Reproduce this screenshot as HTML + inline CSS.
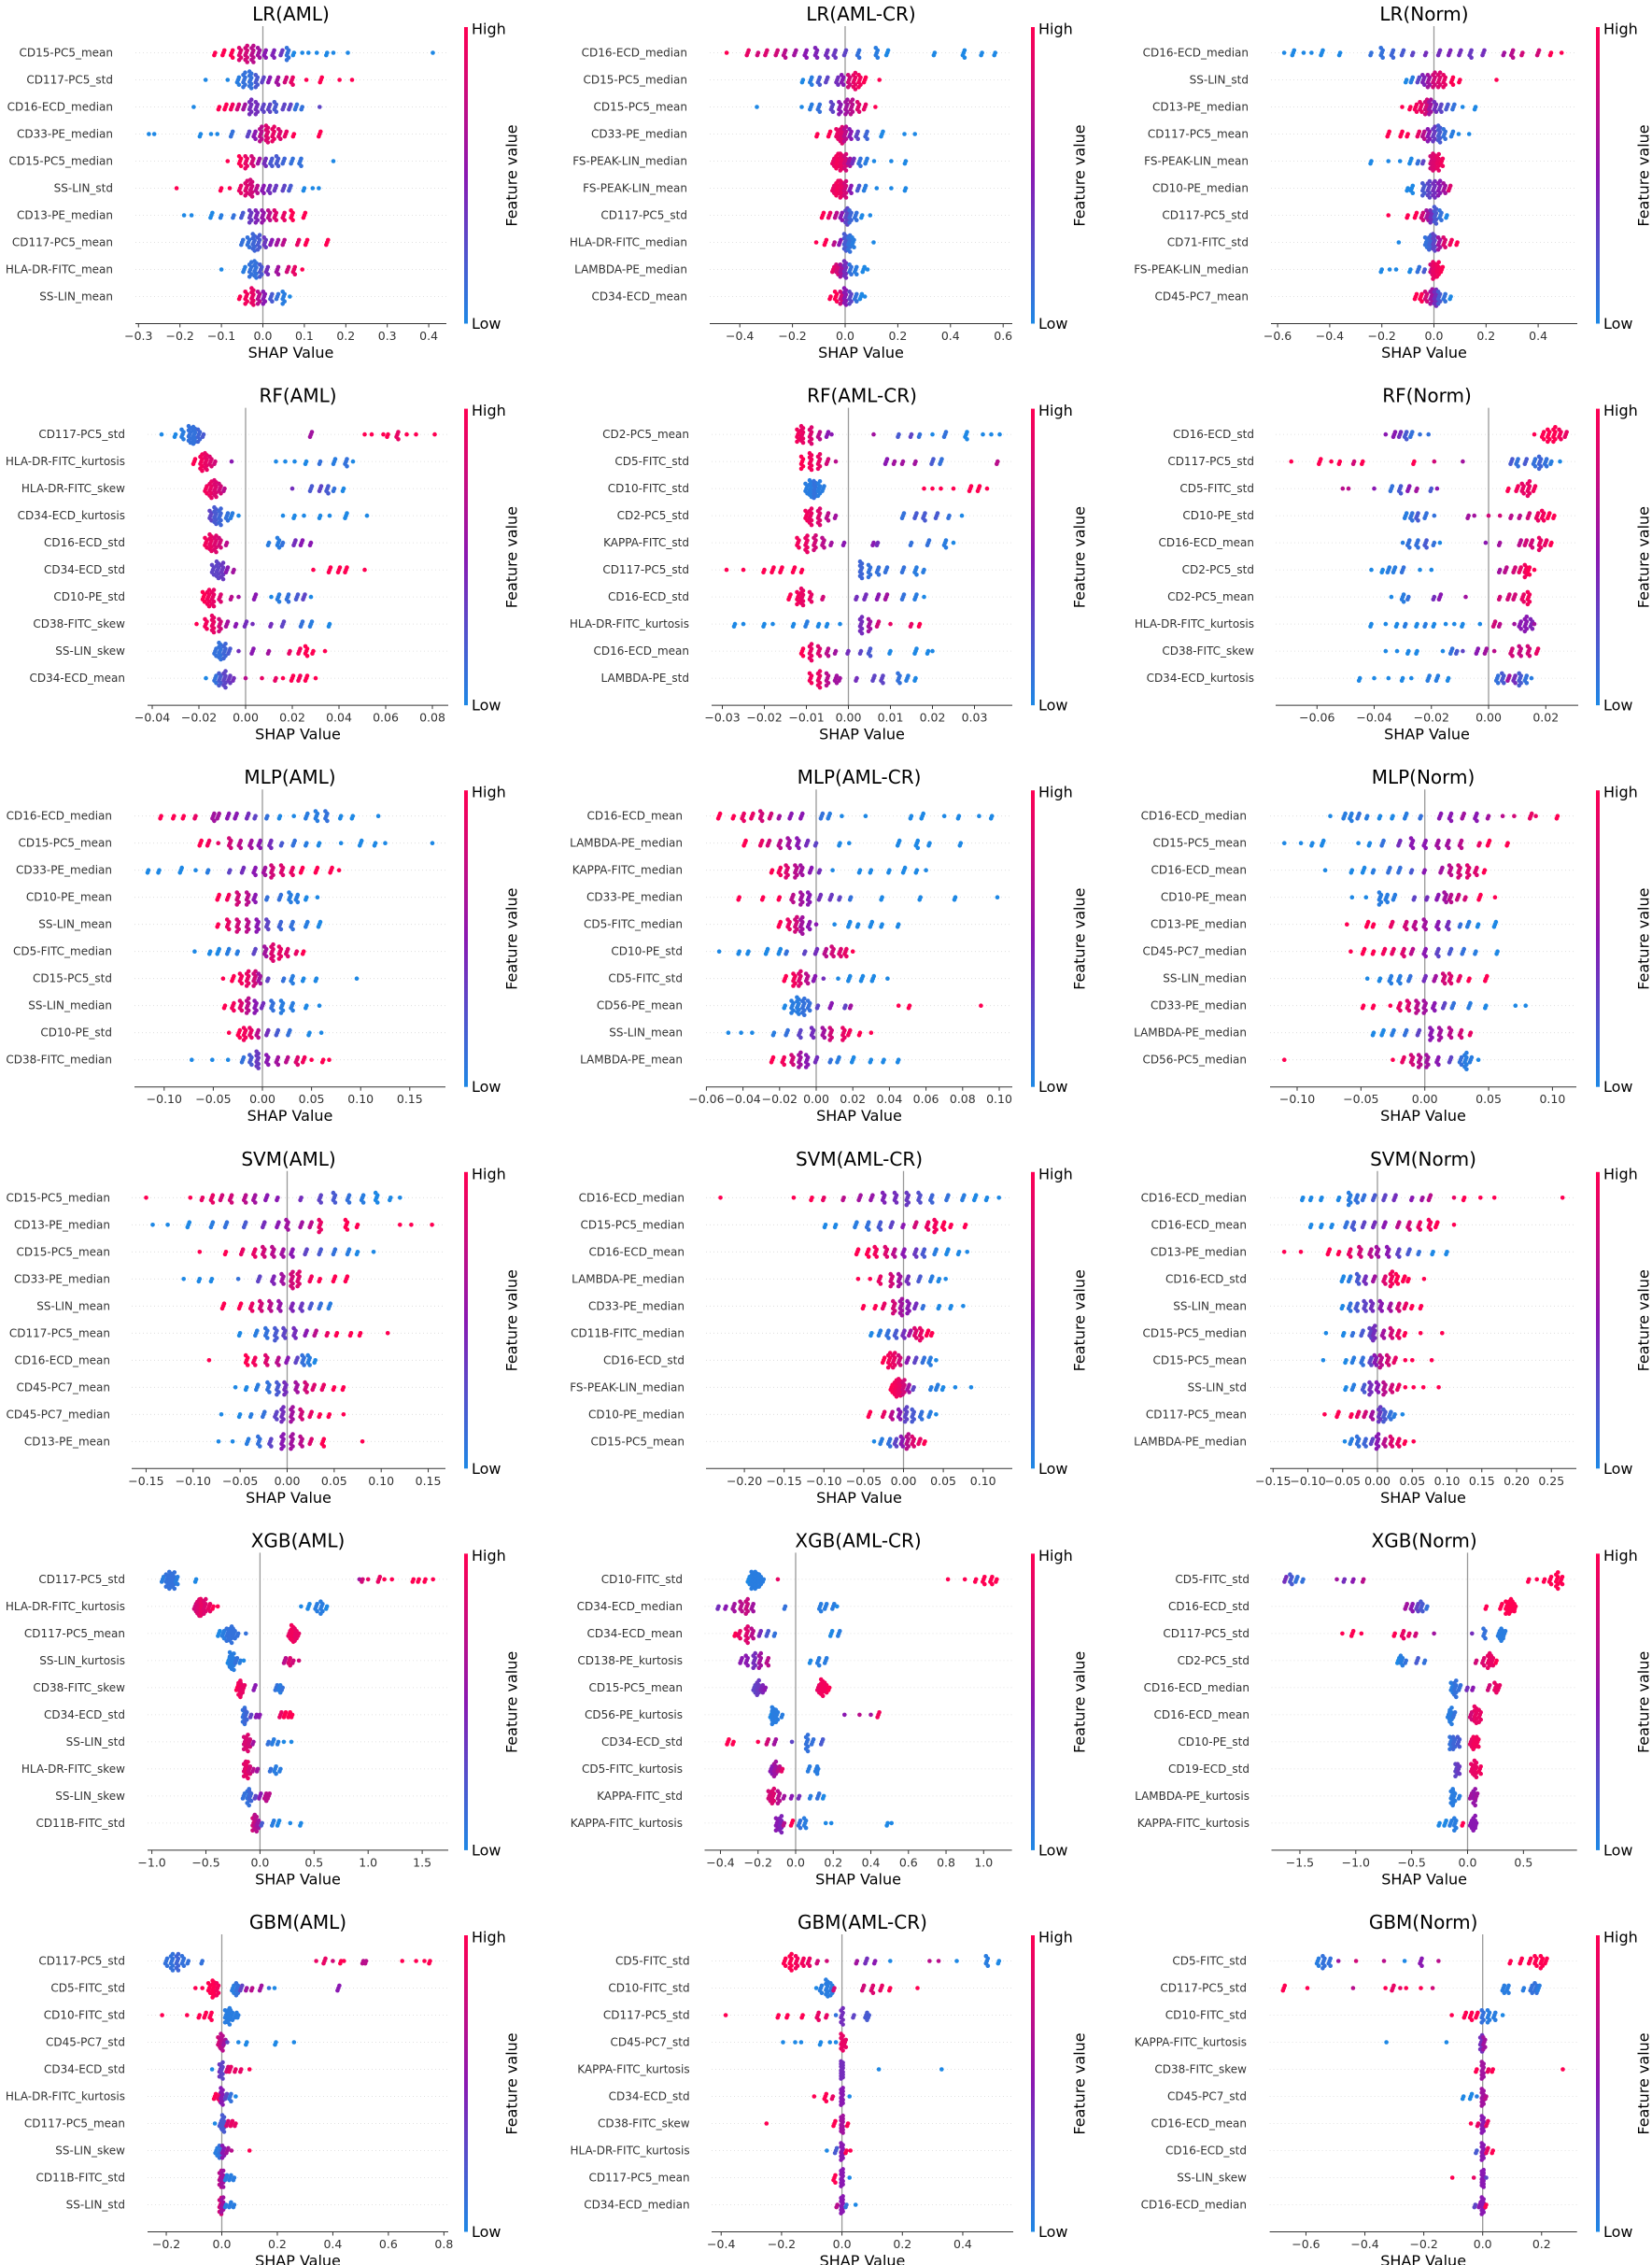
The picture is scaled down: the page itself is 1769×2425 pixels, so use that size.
<!DOCTYPE html>
<html><head><meta charset="utf-8"><style>
html,body{margin:0;padding:0;background:#fff}
svg{display:block}
text{font-family:"DejaVu Sans","Liberation Sans",sans-serif}
</style></head><body>
<svg id="chart" xmlns="http://www.w3.org/2000/svg" width="1769" height="2425" viewBox="0 0 1769 2425"></svg>
<script>
// ---------- data: feature names, beeswarm clusters [shap value, count, feature level 0..1], ticks ----------
const featLRAML=["CD15-PC5_mean","CD117-PC5_std","CD16-ECD_median","CD33-PE_median","CD15-PC5_median","SS-LIN_std","CD13-PE_median","CD117-PC5_mean","HLA-DR-FITC_mean","SS-LIN_mean"];
const valsLRAML=[
[[-0.115,2,1],[-0.095,3,1],[-0.075,4,1],[-0.055,6,0.85],[-0.04,8,0.8],[-0.025,8,0.7],[-0.01,5,0.6],[0.005,4,0.5],[0.025,4,0.45],[0.045,3,0.35],[0.06,6,0.1],[0.075,2,0],[0.095,1,0],[0.11,1,0],[0.13,1,0],[0.155,2,0],[0.17,1,0],[0.205,1,0],[0.41,1,0]],
[[-0.138,1,0],[-0.085,1,0],[-0.06,4,0.05],[-0.045,7,0.1],[-0.03,9,0.1],[-0.015,6,0.2],[0,3,0.3],[0.015,3,0.5],[0.035,4,0.6],[0.055,3,0.8],[0.07,4,0.9],[0.105,1,1],[0.14,3,1],[0.185,1,1],[0.215,1,1]],
[[-0.167,1,0],[-0.105,2,1],[-0.09,3,1],[-0.075,3,0.95],[-0.06,3,0.8],[-0.045,3,0.6],[-0.03,7,0.4],[-0.015,6,0.4],[0,4,0.3],[0.015,4,0.3],[0.03,5,0.2],[0.05,3,0.3],[0.065,3,0.3],[0.08,3,0.1],[0.095,2,0.1],[0.137,1,0.3]],
[[-0.275,1,0],[-0.262,1,0],[-0.15,2,0],[-0.125,1,0],[-0.11,1,0],[-0.075,3,0.1],[-0.035,3,0.3],[-0.02,4,0.5],[-0.005,7,0.7],[0.01,9,0.85],[0.025,7,0.9],[0.04,5,0.85],[0.055,3,0.9],[0.075,2,1],[0.137,3,1]],
[[-0.085,1,1],[-0.055,5,1],[-0.04,6,0.9],[-0.025,5,0.8],[-0.01,3,0.6],[0.005,4,0.4],[0.02,4,0.2],[0.035,5,0.2],[0.05,3,0.15],[0.07,3,0.1],[0.09,4,0.1],[0.17,1,0]],
[[-0.208,1,1],[-0.1,2,1],[-0.08,1,1],[-0.055,4,0.9],[-0.04,7,0.85],[-0.028,9,0.8],[-0.015,4,0.7],[0,4,0.5],[0.015,4,0.4],[0.03,3,0.35],[0.05,3,0.3],[0.065,3,0.2],[0.1,2,0],[0.12,1,0],[0.135,1,0]],
[[-0.19,1,0],[-0.172,1,0],[-0.124,3,0],[-0.1,2,0.05],[-0.07,2,0.1],[-0.05,3,0.2],[-0.03,6,0.35],[-0.015,6,0.45],[0,6,0.55],[0.015,5,0.7],[0.03,5,0.85],[0.05,4,0.9],[0.07,5,1],[0.1,3,1]],
[[-0.05,3,0.1],[-0.035,5,0.1],[-0.022,9,0.15],[-0.01,7,0.2],[0.005,5,0.35],[0.02,3,0.5],[0.035,3,0.6],[0.05,3,0.7],[0.085,3,0.9],[0.105,3,1],[0.155,3,1]],
[[-0.1,1,0],[-0.045,3,0.05],[-0.03,7,0.1],[-0.018,9,0.1],[-0.005,6,0.2],[0.01,4,0.4],[0.035,4,0.6],[0.06,3,0.8],[0.075,4,0.9],[0.095,1,1]],
[[-0.055,2,1],[-0.04,6,0.95],[-0.025,9,0.9],[-0.01,6,0.7],[0.003,6,0.5],[0.02,4,0.2],[0.035,3,0.1],[0.05,6,0.05],[0.065,1,0]]];
const ticksLRAML=[-0.3,-0.2,-0.1,0,0.1,0.2,0.3,0.4];

const featLRCR=["CD16-ECD_median","CD15-PC5_median","CD15-PC5_mean","CD33-PE_median","FS-PEAK-LIN_median","FS-PEAK-LIN_mean","CD117-PC5_std","HLA-DR-FITC_median","LAMBDA-PE_median","CD34-ECD_mean"];
const valsLRCR=[
[[-0.45,1,1],[-0.37,3,0.9],[-0.33,2,0.8],[-0.3,3,0.85],[-0.26,3,0.8],[-0.23,4,0.7],[-0.19,3,0.6],[-0.15,4,0.5],[-0.11,5,0.45],[-0.07,4,0.4],[-0.04,4,0.35],[0,3,0.3],[0.05,4,0.1],[0.12,5,0.05],[0.16,3,0],[0.34,2,0],[0.45,4,0],[0.52,2,0],[0.57,2,0]],
[[-0.16,2,0],[-0.13,4,0.05],[-0.1,4,0.2],[-0.07,3,0.3],[-0.03,4,0.4],[-0.01,5,0.5],[0.015,6,0.8],[0.035,8,0.9],[0.055,6,0.95],[0.075,3,1],[0.13,1,1]],
[[-0.335,1,0],[-0.165,1,0],[-0.13,3,0.05],[-0.1,4,0.1],[-0.05,5,0.3],[-0.02,6,0.5],[0.005,7,0.6],[0.025,7,0.7],[0.05,5,0.85],[0.075,3,0.9],[0.115,1,1]],
[[-0.105,2,1],[-0.06,3,1],[-0.03,5,0.9],[-0.015,8,0.85],[0,7,0.7],[0.02,5,0.5],[0.045,4,0.3],[0.08,4,0.15],[0.14,3,0],[0.225,1,0],[0.265,1,0]],
[[-0.045,4,0.9],[-0.03,7,0.95],[-0.015,10,0.9],[0,8,0.8],[0.015,4,0.6],[0.03,3,0.4],[0.055,4,0.1],[0.08,3,0.05],[0.11,1,0],[0.175,1,0],[0.23,2,0]],
[[-0.045,4,0.9],[-0.03,7,0.95],[-0.015,10,0.9],[0,8,0.8],[0.02,4,0.5],[0.05,3,0.2],[0.075,3,0.05],[0.12,1,0],[0.175,1,0],[0.23,2,0]],
[[-0.085,3,1],[-0.06,3,0.9],[-0.035,3,0.7],[-0.015,4,0.5],[0.005,8,0.3],[0.02,6,0.15],[0.04,4,0.1],[0.065,2,0],[0.095,1,0]],
[[-0.11,1,1],[-0.075,3,1],[-0.04,2,0.7],[-0.02,3,0.5],[0,9,0.2],[0.015,8,0.1],[0.03,5,0.05],[0.108,1,0]],
[[-0.045,3,0.9],[-0.03,5,0.8],[-0.015,6,0.6],[0,9,0.4],[0.02,5,0.1],[0.04,4,0.05],[0.07,3,0],[0.085,1,0]],
[[-0.055,2,1],[-0.035,5,1],[-0.015,6,0.8],[0,9,0.5],[0.02,6,0.3],[0.04,4,0.1],[0.06,3,0],[0.075,1,0]]];
const ticksLRCR=[-0.4,-0.2,0,0.2,0.4,0.6];

const featLRN=["CD16-ECD_median","SS-LIN_std","CD13-PE_median","CD117-PC5_mean","FS-PEAK-LIN_mean","CD10-PE_median","CD117-PC5_std","CD71-FITC_std","FS-PEAK-LIN_median","CD45-PC7_mean"];
const valsLRN=[
[[-0.575,1,0],[-0.54,3,0],[-0.5,1,0],[-0.47,1,0],[-0.43,3,0],[-0.36,2,0],[-0.24,2,0.1],[-0.2,5,0.1],[-0.16,4,0.15],[-0.12,3,0.2],[-0.08,2,0.3],[-0.03,2,0.4],[0.02,3,0.4],[0.06,3,0.45],[0.1,3,0.4],[0.14,4,0.35],[0.19,3,0.4],[0.27,2,0.6],[0.3,4,0.7],[0.34,2,0.8],[0.4,3,0.8],[0.45,2,1],[0.49,1,1]],
[[-0.105,2,0],[-0.085,3,0.05],[-0.06,3,0.3],[-0.04,5,0.45],[-0.02,6,0.6],[0,7,0.8],[0.02,7,0.85],[0.04,6,0.9],[0.07,4,1],[0.1,2,1],[0.24,1,1]],
[[-0.122,1,1],[-0.09,2,1],[-0.07,4,0.95],[-0.05,5,0.9],[-0.03,7,0.8],[-0.015,7,0.6],[0.005,5,0.4],[0.025,4,0.3],[0.05,3,0.2],[0.075,3,0.1],[0.11,1,0],[0.16,2,0]],
[[-0.175,3,1],[-0.125,3,1],[-0.1,2,1],[-0.06,3,0.9],[-0.04,4,0.7],[-0.02,6,0.5],[0,7,0.35],[0.02,9,0.2],[0.04,5,0.1],[0.07,3,0.05],[0.095,1,0],[0.135,1,0]],
[[-0.24,2,0],[-0.175,1,0],[-0.13,1,0],[-0.09,3,0],[-0.06,2,0.1],[-0.04,2,0.3],[-0.01,6,0.8],[0,10,0.85],[0.015,8,0.9],[0.03,4,0.95]],
[[-0.1,2,0],[-0.085,4,0],[-0.04,6,0.2],[-0.02,8,0.3],[0,8,0.4],[0.02,7,0.5],[0.04,5,0.6],[0.06,3,0.85]],
[[-0.175,1,1],[-0.1,2,1],[-0.07,3,1],[-0.045,4,0.8],[-0.025,5,0.6],[-0.01,6,0.4],[0.005,9,0.2],[0.025,5,0.1],[0.05,2,0]],
[[-0.135,1,0],[-0.03,5,0.1],[-0.015,7,0.15],[0,9,0.3],[0.02,6,0.6],[0.04,5,0.85],[0.065,3,0.95],[0.09,2,1]],
[[-0.2,2,0],[-0.17,1,0],[-0.145,1,0],[-0.09,2,0],[-0.06,3,0.1],[-0.035,2,0.2],[-0.01,5,0.8],[0,10,0.9],[0.015,7,0.95],[0.03,3,1]],
[[-0.07,3,1],[-0.05,4,1],[-0.03,5,0.8],[-0.01,7,0.6],[0.005,8,0.4],[0.02,6,0.2],[0.04,4,0.1],[0.065,2,0]]];
const ticksLRN=[-0.6,-0.4,-0.2,0,0.2,0.4];

const featRFAML=["CD117-PC5_std","HLA-DR-FITC_kurtosis","HLA-DR-FITC_skew","CD34-ECD_kurtosis","CD16-ECD_std","CD34-ECD_std","CD10-PE_std","CD38-FITC_skew","SS-LIN_skew","CD34-ECD_mean"];
const valsRFAML=[
[[-0.036,1,0],[-0.03,2,0],[-0.027,5,0.05],[-0.024,9,0.1],[-0.022,10,0.1],[-0.02,6,0.15],[-0.018,2,0.2],[0.028,3,0.6],[0.051,1,1],[0.054,1,1],[0.059,1,1],[0.061,2,1],[0.065,4,0.9],[0.069,1,1],[0.073,1,1],[0.081,1,1]],
[[-0.022,3,1],[-0.019,8,0.95],[-0.017,9,0.9],[-0.015,5,0.85],[-0.013,2,0.8],[-0.006,1,0.5],[0.013,1,0],[0.017,1,0],[0.021,1,0],[0.026,2,0],[0.032,2,0.1],[0.038,3,0.05],[0.043,4,0.1],[0.046,1,0]],
[[-0.017,4,0.95],[-0.015,8,0.9],[-0.013,9,0.85],[-0.011,5,0.8],[-0.009,2,0.7],[0.02,1,0.4],[0.028,3,0.2],[0.032,3,0.3],[0.035,4,0.2],[0.038,2,0.1],[0.042,2,0]],
[[-0.015,5,0.3],[-0.013,9,0.2],[-0.011,8,0.15],[-0.008,4,0.1],[-0.006,3,0.05],[-0.003,1,0],[0.016,1,0],[0.021,2,0],[0.025,1,0],[0.032,2,0],[0.036,1,0],[0.043,3,0],[0.052,1,0]],
[[-0.017,5,0.95],[-0.015,9,0.9],[-0.013,8,0.85],[-0.011,5,0.8],[-0.008,2,0.7],[0.01,2,0.05],[0.014,5,0.05],[0.016,2,0.1],[0.021,3,0.4],[0.024,3,0.5],[0.028,2,0.5]],
[[-0.014,5,0.3],[-0.012,9,0.3],[-0.01,8,0.35],[-0.008,3,0.5],[-0.005,2,0.6],[0.029,1,1],[0.036,3,1],[0.04,3,1],[0.043,3,1],[0.051,1,1]],
[[-0.018,5,1],[-0.016,8,0.95],[-0.014,8,0.9],[-0.011,4,0.85],[-0.006,2,0.7],[-0.003,1,0.6],[0.004,3,0.5],[0.011,1,0],[0.014,4,0.05],[0.018,4,0.1],[0.022,3,0.2],[0.025,3,0.3],[0.028,1,0]],
[[-0.021,1,1],[-0.017,5,0.95],[-0.014,9,0.9],[-0.011,6,0.8],[-0.008,3,0.6],[-0.004,2,0.5],[0,3,0.4],[0.003,1,0.4],[0.011,2,0.4],[0.016,3,0.3],[0.024,3,0.1],[0.028,3,0.05],[0.036,2,0]],
[[-0.013,4,0.1],[-0.011,9,0.1],[-0.009,7,0.15],[-0.007,3,0.2],[-0.003,1,0.4],[0.003,3,0.5],[0.01,2,0.6],[0.019,2,0.9],[0.023,3,0.95],[0.026,5,1],[0.029,2,1],[0.034,1,1]],
[[-0.017,1,0],[-0.013,4,0.1],[-0.011,6,0.2],[-0.009,8,0.3],[-0.007,4,0.35],[-0.005,2,0.4],[0,1,0.7],[0.007,1,0.9],[0.013,2,0.9],[0.016,1,1],[0.02,3,1],[0.023,3,0.95],[0.026,3,1],[0.03,1,1]]];
const ticksRFAML=[-0.04,-0.02,0,0.02,0.04,0.06,0.08];

const featRFCR=["CD2-PC5_mean","CD5-FITC_std","CD10-FITC_std","CD2-PC5_std","KAPPA-FITC_std","CD117-PC5_std","CD16-ECD_std","HLA-DR-FITC_kurtosis","CD16-ECD_mean","LAMBDA-PE_std"];
const valsRFCR=[
[[-0.012,6,0.95],[-0.011,9,0.9],[-0.009,8,0.85],[-0.007,4,0.7],[-0.005,3,0.5],[-0.004,1,0.5],[0.006,1,0.6],[0.012,2,0.2],[0.015,2,0.3],[0.017,2,0.1],[0.02,1,0],[0.023,3,0.1],[0.028,4,0],[0.032,1,0],[0.034,1,0],[0.036,1,0]],
[[-0.011,6,1],[-0.009,9,0.95],[-0.007,7,0.9],[-0.005,3,0.8],[-0.003,1,0.7],[0.009,3,0.5],[0.011,2,0.6],[0.013,2,0.6],[0.016,2,0.6],[0.02,3,0.2],[0.022,3,0.1],[0.0355,2,0.7]],
[[-0.01,5,0.05],[-0.009,9,0.05],[-0.008,10,0.1],[-0.007,7,0.05],[-0.006,3,0.05],[0.018,1,1],[0.02,1,1],[0.022,1,1],[0.025,1,1],[0.029,3,1],[0.031,3,1],[0.033,1,1]],
[[-0.01,5,0.95],[-0.009,8,0.9],[-0.007,8,0.85],[-0.005,4,0.7],[-0.003,2,0.6],[0.013,3,0.1],[0.016,3,0.2],[0.018,4,0.2],[0.021,3,0.2],[0.024,2,0.1],[0.027,1,0]],
[[-0.012,5,0.95],[-0.01,8,0.9],[-0.008,7,0.8],[-0.006,5,0.7],[-0.004,2,0.6],[-0.001,2,0.5],[0.006,2,0.5],[0.007,2,0.4],[0.015,2,0.1],[0.019,3,0.1],[0.023,4,0.05],[0.025,1,0]],
[[-0.029,1,1],[-0.025,1,1],[-0.02,2,1],[-0.018,3,1],[-0.016,3,1],[-0.013,3,1],[-0.011,2,1],[0.003,9,0.15],[0.005,6,0.1],[0.007,4,0.1],[0.009,3,0.1],[0.013,3,0.1],[0.016,4,0.05],[0.018,2,0.05]],
[[-0.014,3,1],[-0.012,6,0.95],[-0.011,9,0.9],[-0.009,5,0.9],[-0.006,2,0.8],[0.002,2,0.4],[0.004,3,0.4],[0.007,3,0.5],[0.009,3,0.6],[0.013,3,0.1],[0.016,3,0.05],[0.018,1,0]],
[[-0.027,2,0],[-0.025,1,0],[-0.02,2,0],[-0.018,1,0],[-0.013,2,0],[-0.01,3,0.05],[-0.007,2,0],[-0.005,2,0],[-0.002,1,0],[0.003,8,0.4],[0.005,6,0.6],[0.007,3,0.8],[0.01,1,0.9],[0.015,2,0.9],[0.017,2,1]],
[[-0.011,4,1],[-0.009,8,0.9],[-0.007,5,0.85],[-0.005,4,0.7],[-0.003,2,0.6],[0,2,0.4],[0.003,2,0.3],[0.005,4,0.2],[0.01,2,0],[0.016,3,0],[0.019,2,0],[0.02,1,0]],
[[-0.009,5,0.95],[-0.007,8,0.9],[-0.005,6,0.7],[-0.003,4,0.6],[-0.002,2,0.6],[0.002,2,0.4],[0.006,3,0.3],[0.008,4,0.3],[0.012,5,0.1],[0.014,3,0.05],[0.016,2,0]]];
const ticksRFCR=[-0.03,-0.02,-0.01,0,0.01,0.02,0.03];

const featRFN=["CD16-ECD_std","CD117-PC5_std","CD5-FITC_std","CD10-PE_std","CD16-ECD_mean","CD2-PC5_std","CD2-PC5_mean","HLA-DR-FITC_kurtosis","CD38-FITC_skew","CD34-ECD_kurtosis"];
const valsRFN=[
[[-0.036,1,0.5],[-0.033,3,0.5],[-0.031,3,0.4],[-0.029,4,0.2],[-0.027,3,0.1],[-0.024,1,0.1],[-0.021,1,0.1],[0.016,1,1],[0.019,4,1],[0.021,6,1],[0.023,7,1],[0.025,5,0.95],[0.027,3,0.9]],
[[-0.069,1,1],[-0.059,3,1],[-0.055,1,1],[-0.052,2,1],[-0.047,2,0.8],[-0.044,2,1],[-0.026,2,1],[-0.019,1,0.8],[-0.009,1,0.6],[0.008,3,0.2],[0.01,4,0.1],[0.013,3,0.2],[0.016,4,0.1],[0.018,6,0.15],[0.02,4,0.1],[0.022,2,0.05],[0.025,1,0]],
[[-0.051,1,0.7],[-0.049,1,0.7],[-0.04,1,0.5],[-0.034,3,0.1],[-0.031,4,0.2],[-0.028,3,0.5],[-0.025,2,0.6],[-0.02,2,0.2],[-0.018,1,0.5],[0.007,2,1],[0.01,3,0.95],[0.012,5,0.9],[0.014,7,0.9],[0.016,3,0.95]],
[[-0.029,3,0.05],[-0.027,4,0.1],[-0.025,4,0.2],[-0.022,3,0.1],[-0.019,1,0.1],[-0.007,2,0.6],[-0.005,1,0.6],[0,1,0.8],[0.004,1,0.8],[0.008,2,0.7],[0.011,2,0.7],[0.014,3,0.8],[0.017,4,0.9],[0.019,5,0.95],[0.021,3,1],[0.023,2,1]],
[[-0.03,1,0.05],[-0.028,4,0.1],[-0.025,4,0.1],[-0.022,4,0.2],[-0.019,2,0.1],[-0.017,1,0],[-0.001,1,0.5],[0.004,2,0.6],[0.011,3,0.7],[0.013,3,0.8],[0.015,4,0.8],[0.018,6,0.9],[0.02,3,0.9],[0.022,2,1]],
[[-0.041,1,0],[-0.037,2,0],[-0.035,3,0.05],[-0.033,3,0.05],[-0.03,3,0.1],[-0.024,1,0],[-0.02,1,0],[0.004,2,0.6],[0.006,3,0.7],[0.009,3,0.8],[0.011,3,0.9],[0.013,6,0.95],[0.014,4,1],[0.016,1,1]],
[[-0.034,1,0],[-0.03,4,0.05],[-0.028,2,0.1],[-0.019,2,0.4],[-0.017,3,0.5],[-0.008,1,0.6],[0.004,2,0.8],[0.007,3,0.8],[0.009,3,0.8],[0.012,4,0.9],[0.014,6,0.95]],
[[-0.041,2,0],[-0.036,1,0],[-0.032,2,0],[-0.029,2,0.05],[-0.025,2,0],[-0.022,2,0.05],[-0.019,2,0],[-0.015,1,0],[-0.012,1,0],[-0.009,2,0],[-0.003,1,0],[0.002,3,0.8],[0.004,2,0.7],[0.009,1,0.6],[0.011,4,0.5],[0.013,7,0.5],[0.015,5,0.45],[0.016,1,0.6]],
[[-0.036,1,0],[-0.032,1,0],[-0.028,2,0],[-0.025,2,0],[-0.016,1,0],[-0.013,3,0.1],[-0.011,2,0.2],[-0.009,1,0.3],[-0.004,3,0.5],[-0.001,3,0.6],[0.002,1,0.7],[0.008,4,0.8],[0.011,5,0.75],[0.014,5,0.8],[0.017,3,0.9]],
[[-0.045,2,0],[-0.04,1,0],[-0.035,1,0],[-0.03,2,0],[-0.027,1,0],[-0.021,3,0.05],[-0.018,3,0.05],[-0.014,2,0],[0.003,4,0.1],[0.005,5,0.2],[0.007,3,0.6],[0.009,4,0.4],[0.011,6,0.2],[0.013,4,0.1],[0.015,1,0.05]]];
const ticksRFN=[-0.06,-0.04,-0.02,0,0.02];

const featMLPAML=["CD16-ECD_median","CD15-PC5_mean","CD33-PE_median","CD10-PE_mean","SS-LIN_mean","CD5-FITC_median","CD15-PC5_std","SS-LIN_median","CD10-PE_std","CD38-FITC_median"];
const valsMLPAML=[
[[-0.103,2,1],[-0.09,2,1],[-0.08,2,1],[-0.068,2,0.9],[-0.05,4,0.6],[-0.045,3,0.6],[-0.035,3,0.5],[-0.027,3,0.5],[-0.015,3,0.4],[-0.007,2,0.3],[0.005,2,0.1],[0.018,2,0],[0.032,1,0],[0.045,3,0.05],[0.055,5,0.05],[0.065,5,0.1],[0.08,2,0],[0.092,2,0],[0.118,1,0]],
[[-0.063,3,1],[-0.055,3,0.95],[-0.045,1,0.9],[-0.033,5,0.8],[-0.023,4,0.7],[-0.012,4,0.6],[-0.003,4,0.5],[0.008,4,0.4],[0.02,2,0.2],[0.032,3,0.1],[0.045,2,0.05],[0.058,2,0],[0.08,1,0],[0.1,3,0],[0.115,2,0],[0.125,1,0],[0.173,1,0]],
[[-0.116,2,0],[-0.105,2,0],[-0.083,3,0],[-0.068,1,0],[-0.055,2,0.05],[-0.033,2,0.3],[-0.02,3,0.4],[-0.008,4,0.5],[0.002,4,0.6],[0.01,6,0.8],[0.02,5,0.85],[0.03,4,0.9],[0.04,3,1],[0.055,3,1],[0.07,3,1],[0.078,1,1]],
[[-0.045,3,1],[-0.035,3,0.95],[-0.025,6,0.8],[-0.015,6,0.7],[-0.008,4,0.5],[0.005,2,0.1],[0.018,3,0.1],[0.028,5,0.05],[0.035,4,0.05],[0.045,2,0],[0.056,1,0]],
[[-0.045,2,1],[-0.035,5,0.9],[-0.025,6,0.8],[-0.015,6,0.7],[-0.005,6,0.5],[0.005,5,0.3],[0.018,4,0.15],[0.03,4,0.1],[0.045,3,0.05],[0.058,3,0]],
[[-0.069,1,0],[-0.053,2,0],[-0.045,3,0],[-0.035,3,0.05],[-0.025,2,0.05],[-0.008,3,0.3],[0.003,5,0.6],[0.01,8,0.85],[0.018,6,0.9],[0.025,4,0.85],[0.035,2,0.9],[0.042,2,1]],
[[-0.04,1,1],[-0.03,3,1],[-0.022,5,0.95],[-0.015,7,0.9],[-0.008,7,0.8],[-0.003,5,0.6],[0.006,2,0.3],[0.022,2,0.1],[0.03,4,0.05],[0.042,2,0],[0.055,2,0],[0.096,1,0]],
[[-0.038,2,1],[-0.03,4,0.95],[-0.022,5,0.85],[-0.015,7,0.7],[-0.007,6,0.5],[0,3,0.4],[0.01,5,0.1],[0.02,6,0.05],[0.03,4,0.05],[0.045,2,0],[0.058,1,0]],
[[-0.034,1,1],[-0.024,4,1],[-0.018,6,0.95],[-0.012,5,0.9],[-0.005,4,0.7],[0.005,3,0.4],[0.015,3,0.2],[0.027,3,0.1],[0.048,2,0],[0.06,1,0]],
[[-0.072,1,0],[-0.051,1,0],[-0.035,1,0],[-0.02,3,0.1],[-0.012,5,0.2],[-0.005,9,0.35],[0.005,5,0.5],[0.015,4,0.6],[0.025,3,0.7],[0.035,4,0.85],[0.042,3,0.95],[0.05,1,1],[0.062,2,1],[0.068,1,1]]];
const ticksMLPAML=[-0.10,-0.05,0,0.05,0.10,0.15];

const featMLPCR=["CD16-ECD_mean","LAMBDA-PE_median","KAPPA-FITC_median","CD33-PE_median","CD5-FITC_median","CD10-PE_std","CD5-FITC_std","CD56-PE_mean","SS-LIN_mean","LAMBDA-PE_mean"];
const valsMLPCR=[
[[-0.053,3,1],[-0.045,2,1],[-0.04,4,0.9],[-0.035,3,0.9],[-0.03,5,0.8],[-0.025,3,0.8],[-0.02,2,0.6],[-0.014,3,0.5],[-0.008,3,0.5],[0.003,3,0.1],[0.007,3,0.05],[0.014,1,0],[0.027,1,0],[0.052,2,0],[0.058,3,0],[0.07,1,0],[0.078,2,0],[0.089,1,0],[0.096,2,0]],
[[-0.039,3,1],[-0.03,3,0.9],[-0.026,3,0.8],[-0.02,4,0.7],[-0.015,5,0.6],[-0.01,5,0.5],[-0.005,3,0.4],[0,2,0.3],[0.013,2,0],[0.018,1,0],[0.045,3,0],[0.055,4,0],[0.062,2,0],[0.079,2,0]],
[[-0.024,2,1],[-0.02,4,0.95],[-0.016,6,0.85],[-0.011,6,0.7],[-0.008,5,0.6],[-0.003,3,0.5],[0.002,2,0.4],[0.009,1,0],[0.024,2,0],[0.03,2,0],[0.04,2,0],[0.048,3,0],[0.055,2,0],[0.06,1,0]],
[[-0.042,2,1],[-0.029,2,1],[-0.02,2,1],[-0.013,4,0.7],[-0.008,6,0.6],[-0.004,6,0.5],[0.002,3,0.4],[0.008,3,0.35],[0.013,2,0.3],[0.019,2,0.1],[0.036,2,0],[0.057,2,0],[0.076,2,0],[0.099,1,0]],
[[-0.02,3,1],[-0.015,5,0.9],[-0.011,7,0.8],[-0.008,8,0.6],[-0.004,4,0.5],[0,1,0.5],[0.01,1,0],[0.018,3,0],[0.023,2,0],[0.03,3,0],[0.036,2,0],[0.045,2,0]],
[[-0.053,1,0],[-0.042,2,0],[-0.037,2,0],[-0.027,3,0],[-0.02,3,0],[-0.016,2,0.1],[-0.006,2,0.3],[0,3,0.4],[0.005,4,0.7],[0.009,5,0.8],[0.013,4,0.85],[0.016,4,0.9],[0.02,1,1]],
[[-0.017,3,1],[-0.012,6,0.95],[-0.009,7,0.85],[-0.005,5,0.7],[-0.001,3,0.5],[0.004,1,0.4],[0.012,1,0],[0.018,3,0],[0.025,3,0],[0.031,3,0],[0.039,1,0]],
[[-0.017,2,0],[-0.013,6,0.05],[-0.01,9,0.05],[-0.007,8,0.1],[-0.004,5,0.1],[0.001,2,0.3],[0.008,3,0.5],[0.016,2,0.3],[0.019,2,0.6],[0.045,1,1],[0.051,2,1],[0.09,1,1]],
[[-0.048,1,0],[-0.041,1,0],[-0.035,1,0],[-0.023,2,0.05],[-0.016,3,0.1],[-0.009,4,0.3],[-0.002,5,0.4],[0.004,5,0.6],[0.008,6,0.8],[0.015,6,0.9],[0.018,3,0.95],[0.024,2,1],[0.03,1,1]],
[[-0.024,3,1],[-0.018,4,0.95],[-0.013,5,0.8],[-0.009,7,0.6],[-0.005,6,0.5],[0,3,0.4],[0.008,2,0.1],[0.012,3,0.05],[0.02,3,0],[0.03,2,0],[0.037,2,0],[0.045,2,0]]];
const ticksMLPCR=[-0.06,-0.04,-0.02,0,0.02,0.04,0.06,0.08,0.10];

const featMLPN=["CD16-ECD_median","CD15-PC5_mean","CD16-ECD_mean","CD10-PE_mean","CD13-PE_median","CD45-PC7_median","SS-LIN_median","CD33-PE_median","LAMBDA-PE_median","CD56-PC5_median"];
const valsMLPN=[
[[-0.074,1,0],[-0.063,3,0.05],[-0.058,4,0.05],[-0.052,3,0.1],[-0.045,2,0.05],[-0.035,2,0],[-0.025,2,0],[-0.015,3,0.05],[-0.003,2,0.1],[0.012,3,0.5],[0.02,4,0.5],[0.03,3,0.6],[0.04,4,0.5],[0.05,2,0.6],[0.061,1,0.7],[0.07,1,0.8],[0.083,3,0.9],[0.087,1,0.9],[0.104,2,1]],
[[-0.11,1,0],[-0.097,1,0],[-0.088,2,0],[-0.08,3,0],[-0.052,1,0],[-0.043,2,0],[-0.033,3,0.1],[-0.02,3,0.4],[-0.01,5,0.5],[0,4,0.5],[0.01,4,0.6],[0.018,4,0.6],[0.028,4,0.7],[0.043,2,0.9],[0.05,3,1],[0.065,2,1]],
[[-0.078,1,0],[-0.057,2,0],[-0.048,3,0],[-0.04,2,0.05],[-0.028,3,0.1],[-0.02,3,0.1],[-0.01,2,0.2],[0,2,0.5],[0.013,3,0.6],[0.02,5,0.7],[0.027,6,0.8],[0.034,6,0.85],[0.04,4,0.85],[0.047,2,1]],
[[-0.057,1,0],[-0.046,1,0],[-0.035,6,0.05],[-0.03,4,0.05],[-0.024,3,0.05],[-0.008,2,0.3],[0.002,2,0.4],[0.01,3,0.5],[0.016,5,0.6],[0.02,4,0.7],[0.026,3,0.75],[0.032,2,0.8],[0.043,3,1],[0.055,1,1]],
[[-0.061,1,1],[-0.045,3,1],[-0.04,2,1],[-0.026,3,0.9],[-0.015,4,0.8],[-0.008,4,0.7],[0,5,0.6],[0.01,4,0.5],[0.018,4,0.4],[0.028,2,0.1],[0.034,3,0.05],[0.042,2,0],[0.055,3,0]],
[[-0.058,1,1],[-0.048,3,1],[-0.04,2,1],[-0.032,3,0.95],[-0.025,3,0.9],[-0.017,4,0.85],[-0.01,3,0.7],[0,4,0.5],[0.01,4,0.3],[0.02,3,0.2],[0.03,3,0.1],[0.04,2,0.05],[0.057,2,0]],
[[-0.045,1,0],[-0.035,2,0],[-0.027,4,0.05],[-0.02,4,0.05],[-0.012,3,0.1],[0,3,0.4],[0.008,3,0.6],[0.015,5,0.8],[0.02,5,0.85],[0.027,3,0.9],[0.035,2,1],[0.048,3,1]],
[[-0.048,2,1],[-0.04,2,1],[-0.027,1,1],[-0.02,4,0.9],[-0.013,5,0.85],[-0.006,6,0.7],[0,6,0.6],[0.007,4,0.5],[0.015,3,0.3],[0.022,3,0.1],[0.035,3,0.05],[0.048,2,0],[0.071,1,0],[0.079,1,0]],
[[-0.04,2,0],[-0.033,3,0],[-0.025,3,0.05],[-0.015,3,0.1],[-0.005,3,0.3],[0.005,6,0.5],[0.012,6,0.6],[0.02,5,0.7],[0.028,4,0.8],[0.036,2,0.9]],
[[-0.11,1,1],[-0.025,1,1],[-0.017,3,0.9],[-0.01,5,0.8],[-0.004,6,0.7],[0.002,6,0.6],[0.01,4,0.5],[0.02,3,0.3],[0.028,4,0.1],[0.032,8,0.05],[0.036,3,0.05],[0.042,1,0]]];
const ticksMLPN=[-0.10,-0.05,0,0.05,0.10];

const featSVMAML=["CD15-PC5_median","CD13-PE_median","CD15-PC5_mean","CD33-PE_median","SS-LIN_mean","CD117-PC5_mean","CD16-ECD_mean","CD45-PC7_mean","CD45-PC7_median","CD13-PE_mean"];
const valsSVMAML=[
[[-0.15,1,1],[-0.103,1,1],[-0.09,2,0.9],[-0.08,4,0.9],[-0.07,3,0.8],[-0.06,4,0.8],[-0.045,4,0.7],[-0.035,4,0.6],[-0.022,3,0.5],[-0.01,2,0.5],[0.015,2,0.4],[0.035,4,0.3],[0.05,5,0.2],[0.065,4,0.1],[0.08,4,0.05],[0.095,5,0],[0.11,2,0],[0.12,1,0]],
[[-0.143,1,0],[-0.127,1,0],[-0.105,3,0],[-0.08,3,0.05],[-0.065,3,0.1],[-0.045,3,0.2],[-0.025,3,0.4],[-0.01,3,0.5],[0,5,0.6],[0.015,3,0.6],[0.025,3,0.7],[0.035,6,0.9],[0.063,5,1],[0.075,2,1],[0.12,1,1],[0.132,1,1],[0.154,1,1]],
[[-0.093,1,1],[-0.065,2,1],[-0.048,3,0.9],[-0.035,4,0.9],[-0.025,5,0.8],[-0.015,5,0.7],[-0.005,4,0.6],[0.005,4,0.5],[0.02,3,0.3],[0.035,3,0.2],[0.05,3,0.1],[0.065,3,0.05],[0.075,2,0],[0.092,1,0]],
[[-0.11,1,0],[-0.093,2,0],[-0.08,2,0],[-0.052,1,0.1],[-0.03,3,0.3],[-0.015,4,0.45],[-0.005,5,0.6],[0.005,8,0.8],[0.012,7,0.85],[0.025,3,0.95],[0.035,2,1],[0.05,3,1],[0.063,3,1]],
[[-0.068,3,1],[-0.05,3,1],[-0.038,4,0.9],[-0.028,5,0.8],[-0.018,5,0.7],[-0.008,5,0.55],[0.005,4,0.45],[0.015,4,0.35],[0.025,3,0.2],[0.035,3,0.1],[0.045,3,0.05]],
[[-0.05,2,0],[-0.033,3,0.05],[-0.022,5,0.1],[-0.012,6,0.2],[-0.003,5,0.3],[0.008,5,0.4],[0.02,3,0.5],[0.03,3,0.7],[0.043,2,0.9],[0.053,2,1],[0.068,2,1],[0.078,2,1],[0.107,1,1]],
[[-0.083,1,1],[-0.043,5,1],[-0.035,4,0.95],[-0.022,5,0.85],[-0.01,4,0.7],[0,3,0.5],[0.01,3,0.3],[0.017,5,0.1],[0.023,5,0.05],[0.03,2,0]],
[[-0.055,1,0],[-0.043,2,0],[-0.032,3,0.05],[-0.02,5,0.1],[-0.01,6,0.2],[-0.002,6,0.4],[0.01,5,0.6],[0.02,5,0.8],[0.028,3,0.85],[0.038,3,0.9],[0.05,2,1],[0.06,2,1]],
[[-0.07,1,0],[-0.05,2,0],[-0.038,2,0.05],[-0.025,3,0.1],[-0.012,4,0.3],[-0.005,7,0.4],[0.005,7,0.6],[0.015,5,0.8],[0.025,3,0.9],[0.035,2,1],[0.045,2,1],[0.06,1,1]],
[[-0.073,1,0],[-0.058,1,0],[-0.042,3,0.05],[-0.03,5,0.1],[-0.018,4,0.3],[-0.005,7,0.5],[0.005,7,0.6],[0.015,5,0.7],[0.025,3,0.85],[0.038,4,1],[0.08,1,1]]];
const ticksSVMAML=[-0.15,-0.10,-0.05,0,0.05,0.10,0.15];

const featSVMCR=["CD16-ECD_median","CD15-PC5_median","CD16-ECD_mean","LAMBDA-PE_median","CD33-PE_median","CD11B-FITC_median","CD16-ECD_std","FS-PEAK-LIN_median","CD10-PE_median","CD15-PC5_mean"];
const valsSVMCR=[
[[-0.23,1,1],[-0.138,1,1],[-0.115,2,1],[-0.1,2,0.9],[-0.075,2,0.7],[-0.055,3,0.6],[-0.04,3,0.55],[-0.025,5,0.45],[-0.01,5,0.4],[0.005,6,0.35],[0.02,5,0.25],[0.035,4,0.15],[0.055,3,0.1],[0.075,3,0.05],[0.09,3,0],[0.105,2,0],[0.12,1,0]],
[[-0.098,2,0],[-0.085,2,0],[-0.06,3,0.05],[-0.045,4,0.1],[-0.03,4,0.2],[-0.015,3,0.3],[0,2,0.5],[0.015,3,0.8],[0.03,4,0.9],[0.04,6,0.95],[0.05,4,1],[0.06,2,1],[0.078,2,1]],
[[-0.058,3,1],[-0.045,4,1],[-0.035,5,0.95],[-0.022,5,0.85],[-0.012,4,0.7],[0,4,0.5],[0.015,4,0.35],[0.025,4,0.2],[0.04,3,0.05],[0.055,3,0],[0.07,2,0],[0.08,1,0]],
[[-0.057,1,1],[-0.042,1,1],[-0.03,4,0.9],[-0.015,6,0.8],[-0.005,6,0.6],[0.005,4,0.4],[0.02,3,0.2],[0.035,3,0.05],[0.045,2,0],[0.053,1,0]],
[[-0.05,2,1],[-0.035,2,1],[-0.025,3,0.9],[-0.012,6,0.8],[-0.003,8,0.6],[0.006,6,0.5],[0.015,3,0.4],[0.025,2,0.1],[0.045,2,0],[0.06,2,0],[0.075,1,0]],
[[-0.04,2,0],[-0.03,3,0.05],[-0.02,4,0.1],[-0.01,4,0.2],[0,4,0.4],[0.008,3,0.6],[0.015,5,0.85],[0.022,6,0.9],[0.03,3,1],[0.036,2,1]],
[[-0.025,3,1],[-0.018,7,0.95],[-0.012,7,0.9],[-0.005,5,0.8],[0.005,3,0.5],[0.015,3,0.3],[0.025,3,0.1],[0.033,4,0.05],[0.041,1,0]],
[[-0.015,4,1],[-0.01,8,0.95],[-0.005,9,0.9],[0,7,0.8],[0.006,4,0.6],[0.013,2,0.3],[0.035,2,0.05],[0.042,3,0.05],[0.05,2,0],[0.065,1,0],[0.085,1,0]],
[[-0.043,3,1],[-0.025,3,0.9],[-0.015,4,0.7],[-0.005,5,0.5],[0.003,7,0.3],[0.012,6,0.2],[0.022,4,0.1],[0.033,3,0.05],[0.041,1,0]],
[[-0.037,1,0],[-0.028,3,0.05],[-0.018,4,0.1],[-0.01,4,0.3],[-0.002,5,0.5],[0.005,7,0.7],[0.012,5,0.85],[0.02,3,0.9],[0.027,2,1]]];
const ticksSVMCR=[-0.20,-0.15,-0.10,-0.05,0,0.05,0.10];

const featSVMN=["CD16-ECD_median","CD16-ECD_mean","CD13-PE_median","CD16-ECD_std","SS-LIN_mean","CD15-PC5_median","CD15-PC5_mean","SS-LIN_std","CD117-PC5_mean","LAMBDA-PE_median"];
const valsSVMN=[
[[-0.107,2,0],[-0.095,2,0],[-0.08,2,0],[-0.055,2,0],[-0.04,6,0.05],[-0.03,4,0.1],[-0.02,3,0.1],[-0.005,3,0.2],[0.01,3,0.3],[0.025,3,0.4],[0.05,2,0.5],[0.065,2,0.6],[0.075,3,0.7],[0.11,1,0.9],[0.125,2,1],[0.148,1,1],[0.168,1,1],[0.266,1,1]],
[[-0.095,2,0],[-0.08,2,0],[-0.065,2,0],[-0.045,3,0.1],[-0.035,4,0.2],[-0.02,3,0.3],[-0.005,3,0.4],[0.01,3,0.5],[0.03,3,0.7],[0.045,4,0.8],[0.06,4,0.9],[0.075,5,0.95],[0.085,3,1],[0.11,1,1]],
[[-0.134,1,1],[-0.11,1,1],[-0.07,3,1],[-0.055,2,1],[-0.04,4,0.9],[-0.025,5,0.8],[-0.01,4,0.7],[0,5,0.6],[0.015,5,0.5],[0.03,4,0.3],[0.045,3,0.2],[0.06,2,0.1],[0.08,2,0],[0.1,2,0]],
[[-0.05,3,0],[-0.04,3,0.05],[-0.028,5,0.2],[-0.018,4,0.4],[-0.005,3,0.6],[0.01,4,0.85],[0.02,7,0.95],[0.028,5,1],[0.038,3,1],[0.045,2,1],[0.067,1,1]],
[[-0.05,2,0],[-0.04,4,0.1],[-0.03,4,0.2],[-0.018,5,0.3],[-0.008,5,0.4],[0.005,5,0.5],[0.018,4,0.6],[0.03,4,0.8],[0.04,3,0.9],[0.05,2,1],[0.063,2,1]],
[[-0.074,1,0],[-0.048,2,0],[-0.035,2,0.1],[-0.022,3,0.2],[-0.01,5,0.3],[-0.005,7,0.4],[0.008,4,0.6],[0.02,5,0.8],[0.03,4,0.9],[0.04,2,1],[0.062,1,1],[0.093,1,1]],
[[-0.078,1,0],[-0.045,2,0],[-0.035,3,0.05],[-0.022,4,0.1],[-0.01,4,0.3],[-0.003,5,0.5],[0.005,6,0.7],[0.015,5,0.8],[0.025,3,0.9],[0.04,1,1],[0.05,1,1],[0.078,1,1]],
[[-0.045,2,0],[-0.035,3,0.05],[-0.02,4,0.2],[-0.01,6,0.4],[0,5,0.5],[0.01,6,0.7],[0.02,4,0.8],[0.03,3,0.9],[0.04,1,1],[0.052,1,1],[0.066,1,1],[0.088,1,1]],
[[-0.076,1,1],[-0.057,3,1],[-0.037,2,1],[-0.028,3,0.9],[-0.018,3,0.8],[-0.008,4,0.6],[0.003,7,0.35],[0.01,6,0.2],[0.018,4,0.1],[0.025,2,0.05],[0.036,1,0]],
[[-0.047,1,0],[-0.038,3,0.05],[-0.028,5,0.1],[-0.018,4,0.15],[-0.008,3,0.3],[0,7,0.5],[0.01,4,0.7],[0.02,5,0.85],[0.03,4,0.9],[0.04,2,1],[0.052,1,1]]];
const ticksSVMN=[-0.15,-0.10,-0.05,0,0.05,0.10,0.15,0.20,0.25];

const featXGBAML=["CD117-PC5_std","HLA-DR-FITC_kurtosis","CD117-PC5_mean","SS-LIN_kurtosis","CD38-FITC_skew","CD34-ECD_std","SS-LIN_std","HLA-DR-FITC_skew","SS-LIN_skew","CD11B-FITC_std"];
const valsXGBAML=[
[[-0.9,3,0.05],[-0.86,6,0.1],[-0.83,10,0.1],[-0.8,8,0.1],[-0.77,4,0.05],[-0.59,2,0],[0.92,1,0.6],[0.95,2,0.8],[1.0,1,0.9],[1.1,3,0.9],[1.15,1,1],[1.22,1,1],[1.42,2,1],[1.47,2,1],[1.53,2,1],[1.6,1,1]],
[[-0.6,4,0.8],[-0.57,8,0.85],[-0.54,10,0.9],[-0.51,7,0.85],[-0.47,4,0.9],[-0.43,2,1],[-0.39,1,1],[0.38,1,0],[0.45,3,0],[0.52,4,0.05],[0.57,6,0.05],[0.62,2,0]],
[[-0.38,3,0],[-0.34,4,0.05],[-0.3,6,0.1],[-0.27,8,0.1],[-0.24,5,0.1],[-0.2,2,0.1],[-0.13,1,0.1],[0.27,4,0.9],[0.3,9,0.95],[0.33,6,0.9],[0.36,2,0.9]],
[[-0.29,4,0],[-0.27,9,0.05],[-0.25,8,0.05],[-0.22,3,0.1],[-0.18,2,0.05],[-0.15,1,0],[0.23,3,0.7],[0.27,4,0.85],[0.31,2,0.8],[0.36,1,0.8]],
[[-0.21,3,1],[-0.19,8,0.95],[-0.17,6,0.9],[-0.15,3,0.9],[-0.05,3,0.5],[0.15,3,0.1],[0.18,4,0.05],[0.21,2,0.1]],
[[-0.15,8,0.1],[-0.13,6,0.15],[-0.08,2,0.3],[-0.03,2,0.5],[0,2,0.5],[0.19,3,0.9],[0.23,3,1],[0.27,3,1],[0.3,2,1]],
[[-0.14,6,0.8],[-0.12,8,0.85],[-0.1,4,0.8],[-0.06,2,0.6],[0.08,2,0.1],[0.12,3,0.05],[0.17,2,0.05],[0.22,1,0],[0.29,1,0]],
[[-0.14,7,0.85],[-0.12,8,0.9],[-0.1,4,0.8],[-0.06,2,0.7],[-0.02,2,0.6],[0.1,2,0.1],[0.14,4,0.05],[0.19,2,0.05]],
[[-0.15,3,0.1],[-0.11,8,0.1],[-0.09,5,0.15],[-0.04,2,0.3],[0,3,0.5],[0.05,4,0.7],[0.08,3,0.7]],
[[-0.06,7,0.8],[-0.04,9,0.7],[-0.02,4,0.6],[0.02,2,0.2],[0.12,3,0.05],[0.17,3,0],[0.28,1,0],[0.38,2,0]]];
const ticksXGBAML=[-1.0,-0.5,0,0.5,1.0,1.5];

const featXGBCR=["CD10-FITC_std","CD34-ECD_median","CD34-ECD_mean","CD138-PE_kurtosis","CD15-PC5_mean","CD56-PE_kurtosis","CD34-ECD_std","CD5-FITC_kurtosis","KAPPA-FITC_std","KAPPA-FITC_kurtosis"];
const valsXGBCR=[
[[-0.25,4,0],[-0.23,10,0.05],[-0.21,10,0.05],[-0.19,6,0.05],[-0.17,2,0.05],[-0.095,1,0.9],[0.81,1,1],[0.9,1,1],[0.96,2,1],[1.0,4,1],[1.04,4,1],[1.07,2,1]],
[[-0.41,2,0.4],[-0.37,2,0.5],[-0.33,4,0.6],[-0.29,5,0.7],[-0.26,7,0.75],[-0.23,4,0.6],[-0.055,2,0.1],[0.13,4,0.05],[0.16,3,0.05],[0.2,3,0.05],[0.22,1,0]],
[[-0.32,2,1],[-0.3,4,0.9],[-0.26,8,0.85],[-0.23,5,0.7],[-0.19,3,0.4],[-0.15,3,0.2],[-0.11,2,0.1],[0.19,3,0],[0.23,3,0.05]],
[[-0.29,3,0.5],[-0.26,5,0.5],[-0.22,7,0.4],[-0.19,7,0.6],[-0.15,4,0.7],[0.08,2,0],[0.12,4,0.05],[0.16,3,0.05]],
[[-0.22,4,0.3],[-0.2,7,0.35],[-0.18,4,0.45],[-0.16,2,0.5],[0.12,4,0.9],[0.14,9,0.95],[0.16,5,0.95],[0.18,2,1]],
[[-0.13,4,0],[-0.12,10,0.05],[-0.1,6,0.05],[-0.07,2,0.05],[0.26,1,0.5],[0.34,1,0.7],[0.4,1,0.6],[0.44,3,0.95]],
[[-0.36,3,1],[-0.33,2,1],[-0.2,1,1],[-0.15,3,0.8],[-0.11,3,0.6],[-0.02,1,0.3],[0.06,8,0.1],[0.09,3,0.1],[0.14,3,0.2]],
[[-0.13,4,0.5],[-0.11,7,0.6],[-0.09,3,0.7],[-0.07,2,0.9],[0.07,3,0.05],[0.11,4,0.05],[0.12,2,0.05]],
[[-0.14,5,0.8],[-0.12,7,0.85],[-0.09,6,0.7],[-0.06,2,0.6],[-0.02,2,0.5],[0.02,2,0.4],[0.08,2,0.05],[0.12,3,0.1],[0.15,2,0]],
[[-0.1,6,0.5],[-0.08,8,0.45],[-0.06,2,0.7],[-0.02,3,1],[0.02,4,0.1],[0.05,5,0.05],[0.16,1,0],[0.19,1,0],[0.49,2,0],[0.51,1,0]]];
const ticksXGBCR=[-0.4,-0.2,0,0.2,0.4,0.6,0.8,1.0];

const featXGBN=["CD5-FITC_std","CD16-ECD_std","CD117-PC5_std","CD2-PC5_std","CD16-ECD_median","CD16-ECD_mean","CD10-PE_std","CD19-ECD_std","LAMBDA-PE_kurtosis","KAPPA-FITC_kurtosis"];
const valsXGBN=[
[[-1.63,3,0.4],[-1.58,5,0.2],[-1.53,3,0.1],[-1.47,2,0.1],[-1.17,1,0.6],[-1.1,2,0.4],[-1.02,2,0.5],[-0.93,2,0.7],[0.55,2,1],[0.62,1,1],[0.69,2,1],[0.74,4,1],[0.8,8,1],[0.84,4,1]],
[[-0.55,3,0.6],[-0.5,4,0.5],[-0.45,4,0.3],[-0.41,5,0.2],[-0.36,2,0.1],[0.17,2,1],[0.3,3,1],[0.35,6,1],[0.38,7,1],[0.41,5,1],[0.43,2,1]],
[[-1.12,1,1],[-1.03,3,1],[-0.95,1,1],[-0.65,2,1],[-0.58,4,0.9],[-0.52,2,0.9],[-0.46,2,0.8],[-0.3,1,0.6],[0.04,1,0.4],[0.15,5,0.1],[0.28,4,0.05],[0.31,6,0.05],[0.33,3,0.05]],
[[-0.62,3,0],[-0.59,5,0.05],[-0.55,2,0.1],[-0.45,3,0.2],[-0.38,2,0.1],[0.08,2,0.8],[0.14,4,0.85],[0.19,7,0.9],[0.22,5,0.9],[0.26,2,1]],
[[-0.14,5,0.05],[-0.11,8,0.1],[-0.07,3,0.1],[0,2,0.4],[0.05,2,0.5],[0.19,3,0.8],[0.25,5,0.9],[0.28,3,0.9]],
[[-0.17,4,0.05],[-0.15,8,0.05],[-0.12,3,0.1],[0.03,4,0.8],[0.07,9,0.9],[0.11,6,0.9]],
[[-0.15,6,0.1],[-0.12,6,0.15],[-0.08,5,0.2],[0.03,4,0.9],[0.06,6,0.95],[0.09,5,0.95]],
[[-0.1,6,0.3],[-0.08,5,0.35],[0.04,5,0.9],[0.07,9,0.9],[0.11,4,0.95]],
[[-0.14,8,0.05],[-0.12,6,0.05],[-0.07,2,0.05],[0.03,3,0.6],[0.06,8,0.55],[0.08,3,0.6]],
[[-0.25,2,0],[-0.2,3,0],[-0.15,3,0.05],[-0.11,6,0.05],[-0.04,2,1],[0.03,4,0.5],[0.06,7,0.5],[0.08,2,0.5]]];
const ticksXGBN=[-1.5,-1.0,-0.5,0,0.5];

const featGBMAML=["CD117-PC5_std","CD5-FITC_std","CD10-FITC_std","CD45-PC7_std","CD34-ECD_std","HLA-DR-FITC_kurtosis","CD117-PC5_mean","SS-LIN_skew","CD11B-FITC_std","SS-LIN_std"];
const valsGBMAML=[
[[-0.2,4,0.1],[-0.18,8,0.1],[-0.16,8,0.15],[-0.14,5,0.1],[-0.12,2,0.1],[-0.07,2,0.1],[0.34,1,0.9],[0.37,3,0.9],[0.4,1,0.8],[0.43,2,1],[0.44,1,1],[0.51,2,0.7],[0.52,2,0.7],[0.65,1,1],[0.7,1,1],[0.73,1,1],[0.75,2,1]],
[[-0.095,1,1],[-0.07,1,1],[-0.045,5,1],[-0.03,10,1],[-0.015,6,0.95],[0.04,4,0.05],[0.055,6,0.1],[0.07,3,0.3],[0.09,2,0.6],[0.11,2,0.7],[0.14,3,0.6],[0.17,1,0.1],[0.19,1,0],[0.42,3,0.5]],
[[-0.215,1,1],[-0.125,1,1],[-0.08,2,1],[-0.06,3,1],[-0.04,4,1],[0.015,6,0.05],[0.025,8,0.05],[0.035,5,0.05],[0.05,3,0.05],[0.06,2,0.05]],
[[-0.01,5,0.8],[0,9,0.7],[0.01,3,0.6],[0.02,1,0.3],[0.06,1,0],[0.09,2,0],[0.195,2,0],[0.26,1,0]],
[[-0.035,1,0],[-0.005,6,0.4],[0,8,0.3],[0.02,3,0.8],[0.03,3,0.9],[0.05,2,0.9],[0.07,2,0.9],[0.1,1,1]],
[[-0.025,3,1],[-0.01,4,0.9],[0,9,0.5],[0.015,3,0.3],[0.03,4,0.1],[0.05,1,0]],
[[-0.025,1,0],[-0.005,4,0.2],[0.005,9,0.2],[0.02,3,0.8],[0.035,3,0.9],[0.05,2,0.9]],
[[-0.02,4,0.05],[-0.005,6,0.1],[0.005,6,0.5],[0.02,3,0.6],[0.035,1,0.7],[0.1,1,1]],
[[-0.005,8,0.7],[0.002,8,0.6],[0.015,3,0.05],[0.03,3,0.05],[0.045,2,0.05]],
[[-0.005,8,0.8],[0.002,7,0.6],[0.015,2,0.05],[0.03,3,0.05],[0.045,2,0.05]]];
const ticksGBMAML=[-0.2,0,0.2,0.4,0.6,0.8];

const featGBMCR=["CD5-FITC_std","CD10-FITC_std","CD117-PC5_std","CD45-PC7_std","KAPPA-FITC_kurtosis","CD34-ECD_std","CD38-FITC_skew","HLA-DR-FITC_kurtosis","CD117-PC5_mean","CD34-ECD_median"];
const valsGBMCR=[
[[-0.19,4,1],[-0.17,8,1],[-0.15,6,0.95],[-0.13,4,0.95],[-0.11,4,0.9],[-0.08,2,0.8],[-0.05,1,0.8],[0.05,2,0.6],[0.08,3,0.4],[0.11,2,0.5],[0.16,1,0],[0.29,1,0.7],[0.32,1,0.7],[0.38,1,0],[0.48,5,0.05],[0.52,2,0]],
[[-0.085,1,0],[-0.07,4,0.05],[-0.05,9,0.05],[-0.035,6,0.05],[-0.025,2,0.8],[0.07,3,0.8],[0.1,4,0.85],[0.13,3,0.9],[0.16,2,1],[0.25,1,1]],
[[-0.385,1,1],[-0.21,2,1],[-0.18,2,1],[-0.13,2,1],[-0.08,4,0.9],[-0.05,2,0.9],[-0.02,1,0.1],[0,8,0.4],[0.04,2,0.3],[0.08,4,0.2],[0.09,2,0.2]],
[[-0.195,1,0],[-0.155,1,0],[-0.135,1,0],[-0.07,2,0],[-0.04,1,0],[-0.02,1,0],[0,9,0.9],[0.01,4,0.9]],
[[0,14,0.4],[0.122,1,0],[0.33,1,0]],
[[-0.092,1,1],[-0.055,4,1],[-0.03,2,0.9],[0,11,0.5],[0.025,1,0]],
[[-0.25,1,1],[-0.025,3,1],[0,12,0.6],[0.02,2,1]],
[[-0.05,1,0],[-0.02,3,0.2],[0,10,0.5],[0.015,2,1],[0.028,1,1]],
[[-0.025,4,1],[0,11,0.5],[0.025,1,0]],
[[-0.015,2,0.7],[0,11,0.5],[0.015,2,0.1],[0.045,1,0]]];
const ticksGBMCR=[-0.4,-0.2,0,0.2,0.4];

const featGBMN=["CD5-FITC_std","CD117-PC5_std","CD10-FITC_std","KAPPA-FITC_kurtosis","CD38-FITC_skew","CD45-PC7_std","CD16-ECD_mean","CD16-ECD_std","SS-LIN_skew","CD16-ECD_median"];
const valsGBMN=[
[[-0.56,4,0.05],[-0.54,6,0.1],[-0.52,4,0.1],[-0.49,1,0.6],[-0.43,1,0.8],[-0.335,1,0.7],[-0.265,1,0],[-0.21,4,0.5],[-0.15,1,0.7],[0.095,2,1],[0.13,3,1],[0.16,3,1],[0.18,5,1],[0.2,6,1],[0.215,3,1]],
[[-0.675,3,1],[-0.595,1,1],[-0.44,1,0.7],[-0.33,1,1],[-0.305,3,0.9],[-0.28,1,0.9],[-0.26,1,1],[-0.21,1,1],[-0.17,1,0.8],[0.07,4,0.05],[0.085,4,0.05],[0.14,2,0.05],[0.165,4,0.1],[0.18,5,0.1],[0.19,3,0.05]],
[[-0.105,1,1],[-0.06,3,1],[-0.04,4,1],[-0.02,3,1],[0,6,0.1],[0.02,6,0.05],[0.04,4,0.05],[0.068,1,0]],
[[-0.327,1,0],[-0.123,1,0],[-0.005,8,0.4],[0.005,6,0.6]],
[[-0.02,2,1],[0,10,0.6],[0.02,2,0.9],[0.035,2,1],[0.272,1,1]],
[[-0.065,2,0],[-0.04,3,0],[-0.02,1,0.05],[0,10,0.6],[0.012,2,0.7]],
[[-0.04,1,1],[-0.015,2,0.9],[0,10,0.5],[0.015,3,0.9]],
[[-0.02,2,0.2],[0,10,0.5],[0.015,3,0.9],[0.035,2,1]],
[[-0.103,1,1],[-0.03,1,0.9],[0,12,0.5],[0.012,1,0.3]],
[[-0.025,2,0.3],[-0.01,3,0.5],[0,10,0.5],[0.012,2,1]]];
const ticksGBMN=[-0.6,-0.4,-0.2,0,0.2];

// ---------- layout (pixel geometry per panel) ----------
const panels=[
{title:"LR(AML)",feats:featLRAML,vals:valsLRAML,ticks:ticksLRAML,dec:1,row:0,col:0,axL:145,axR:478,zero:281.5,ppu:444,lblR:121},
{title:"LR(AML-CR)",feats:featLRCR,vals:valsLRCR,ticks:ticksLRCR,dec:1,row:0,col:1,axL:760,axR:1084,zero:905,ppu:282,lblR:736},
{title:"LR(Norm)",feats:featLRN,vals:valsLRN,ticks:ticksLRN,dec:1,row:0,col:2,axL:1361,axR:1689,zero:1535.5,ppu:279,lblR:1337},
{title:"RF(AML)",feats:featRFAML,vals:valsRFAML,ticks:ticksRFAML,dec:2,row:1,col:0,axL:158,axR:480,zero:263,ppu:2500,lblR:134},
{title:"RF(AML-CR)",feats:featRFCR,vals:valsRFCR,ticks:ticksRFCR,dec:2,row:1,col:1,axL:762,axR:1084,zero:908.5,ppu:4500,lblR:738},
{title:"RF(Norm)",feats:featRFN,vals:valsRFN,ticks:ticksRFN,dec:2,row:1,col:2,axL:1366,axR:1690,zero:1594,ppu:3062,lblR:1343},
{title:"MLP(AML)",feats:featMLPAML,vals:valsMLPAML,ticks:ticksMLPAML,dec:2,row:2,col:0,axL:144,axR:477,zero:281,ppu:1052,lblR:120},
{title:"MLP(AML-CR)",feats:featMLPCR,vals:valsMLPCR,ticks:ticksMLPCR,dec:2,row:2,col:1,axL:756,axR:1084,zero:874,ppu:1960,lblR:731},
{title:"MLP(Norm)",feats:featMLPN,vals:valsMLPN,ticks:ticksMLPN,dec:2,row:2,col:2,axL:1360,axR:1688,zero:1525.7,ppu:1367,lblR:1335},
{title:"SVM(AML)",feats:featSVMAML,vals:valsSVMAML,ticks:ticksSVMAML,dec:2,row:3,col:0,axL:141,axR:477,zero:307.5,ppu:1007,lblR:118},
{title:"SVM(AML-CR)",feats:featSVMCR,vals:valsSVMCR,ticks:ticksSVMCR,dec:2,row:3,col:1,axL:756,axR:1084,zero:967.5,ppu:852,lblR:733},
{title:"SVM(Norm)",feats:featSVMN,vals:valsSVMN,ticks:ticksSVMN,dec:2,row:3,col:2,axL:1360,axR:1688,zero:1475,ppu:745,lblR:1335},
{title:"XGB(AML)",feats:featXGBAML,vals:valsXGBAML,ticks:ticksXGBAML,dec:1,row:4,col:0,axL:158,axR:480,zero:278.4,ppu:115.8,lblR:134},
{title:"XGB(AML-CR)",feats:featXGBCR,vals:valsXGBCR,ticks:ticksXGBCR,dec:1,row:4,col:1,axL:754.5,axR:1083.6,zero:852,ppu:201.3,lblR:731},
{title:"XGB(Norm)",feats:featXGBN,vals:valsXGBN,ticks:ticksXGBN,dec:1,row:4,col:2,axL:1361.5,axR:1688.7,zero:1571.5,ppu:119.7,lblR:1338},
{title:"GBM(AML)",feats:featGBMAML,vals:valsGBMAML,ticks:ticksGBMAML,dec:1,row:5,col:0,axL:158,axR:480,zero:237.5,ppu:297.3,lblR:134},
{title:"GBM(AML-CR)",feats:featGBMCR,vals:valsGBMCR,ticks:ticksGBMCR,dec:1,row:5,col:1,axL:762,axR:1085,zero:901.6,ppu:323.4,lblR:738.6},
{title:"GBM(Norm)",feats:featGBMN,vals:valsGBMN,ticks:ticksGBMN,dec:1,row:5,col:2,axL:1359.6,axR:1688.7,zero:1587.7,ppu:315.4,lblR:1335}
];
const cbXs=[499,1106,1711];
const fvXs=[548,1156,1760];

const NS="http://www.w3.org/2000/svg";
const svg=document.getElementById("chart");
function mk(tag,parent){const e=document.createElementNS(NS,tag);parent.appendChild(e);return e;}
function colorFor(t){
  const s=[[0,[30,136,229]],[0.5,[138,24,178]],[1,[255,0,82]]];
  let a=s[0],b=s[1];if(t>0.5){a=s[1];b=s[2];}
  const u=(t-a[0])/(b[0]-a[0]);
  const c=a[1].map((v,i)=>Math.round(v+(b[1][i]-v)*u));
  return "rgb("+c.join(",")+")";
}
function fmt(v,d){const s=Math.abs(v).toFixed(d);return (v<-1e-9?"\u2212":"")+s;}

const defs=mk("defs",svg);
const grad=mk("linearGradient",defs);
grad.setAttribute("id","cbgrad");grad.setAttribute("x1","0");grad.setAttribute("y1","1");grad.setAttribute("x2","0");grad.setAttribute("y2","0");
[0,0.25,0.5,0.75,1].forEach(t=>{const st=mk("stop",grad);st.setAttribute("offset",t);st.setAttribute("stop-color",colorFor(t));});

panels.forEach(p=>{
  const top=p.row*408.6;
  const axisY=top+346.5;
  const g=mk("g",svg);
  
  
  const xs=v=>p.zero+v*p.ppu;
  const rowY=i=>top+56.5+i*29;
  const tt=mk("text",g);
  
  
  tt.setAttribute("x",(p.axL+p.axR)/2);tt.setAttribute("y",top+15);tt.setAttribute("text-anchor","middle");
  tt.setAttribute("dominant-baseline","central");tt.setAttribute("font-size","20");tt.setAttribute("fill","#000");
  tt.textContent=p.title;
  p.feats.forEach((f,i)=>{
    const gl=mk("line",g);
    
    
    gl.setAttribute("x1",p.axL);gl.setAttribute("x2",p.axR);gl.setAttribute("y1",rowY(i));gl.setAttribute("y2",rowY(i));
    gl.setAttribute("stroke","#d8d8d8");gl.setAttribute("stroke-width","0.8");gl.setAttribute("stroke-dasharray","1 3");
    const lt=mk("text",g);
    
    
    lt.setAttribute("x",p.lblR);lt.setAttribute("y",rowY(i));lt.setAttribute("text-anchor","end");
    lt.setAttribute("dominant-baseline","central");lt.setAttribute("font-size","12");lt.setAttribute("fill","#333");
    lt.textContent=f;
  });
  const zl=mk("line",g);
  
  
  zl.setAttribute("x1",xs(0));zl.setAttribute("x2",xs(0));zl.setAttribute("y1",top+28);zl.setAttribute("y2",axisY);
  zl.setAttribute("stroke","#999");zl.setAttribute("stroke-width","1.3");
  p.vals.forEach((row,i)=>{
    row.forEach(cl=>{
      const v=cl[0],n=cl[1],c=cl[2];
      const d=Math.min(2.6,20/Math.max(n,1));
      for(let k=0;k<n;k++){
        const off=(k%2?1:-1)*Math.ceil(k/2)*d;
        const jx=k===0?0:((k%4)<2?-1:1);
        const dot=mk("circle",g);
        
        
        dot.setAttribute("cx",(xs(v)+jx).toFixed(1));dot.setAttribute("cy",(rowY(i)+off).toFixed(1));
        dot.setAttribute("r","2.3");dot.setAttribute("fill",colorFor(c));
      }
    });
  });
  const ax=mk("line",g);
  
  
  ax.setAttribute("x1",p.axL);ax.setAttribute("x2",p.axR);ax.setAttribute("y1",axisY);ax.setAttribute("y2",axisY);
  ax.setAttribute("stroke","#333");ax.setAttribute("stroke-width","1");
  p.ticks.forEach(t=>{
    const tk=mk("line",g);
    
    
    tk.setAttribute("x1",xs(t));tk.setAttribute("x2",xs(t));tk.setAttribute("y1",axisY);tk.setAttribute("y2",axisY+4);
    tk.setAttribute("stroke","#333");
    const tl=mk("text",g);
    
    
    tl.setAttribute("x",xs(t));tl.setAttribute("y",axisY+13);tl.setAttribute("text-anchor","middle");
    tl.setAttribute("dominant-baseline","central");tl.setAttribute("font-size","12.5");tl.setAttribute("fill","#333");
    tl.textContent=fmt(t,p.dec);
  });
  const xt=mk("text",g);
  
  
  xt.setAttribute("x",(p.axL+p.axR)/2);xt.setAttribute("y",axisY+31);xt.setAttribute("text-anchor","middle");
  xt.setAttribute("dominant-baseline","central");xt.setAttribute("font-size","16");xt.setAttribute("fill","#000");
  xt.textContent="SHAP Value";
  const cbx=cbXs[p.col];
  const cb=mk("rect",g);
  
  
  cb.setAttribute("x",cbx-2);cb.setAttribute("y",top+29);cb.setAttribute("width","4");cb.setAttribute("height",axisY-top-29);
  cb.setAttribute("fill","url(#cbgrad)");
  const hi=mk("text",g);
  
  
  hi.setAttribute("x",cbx+6);hi.setAttribute("y",top+31);hi.setAttribute("dominant-baseline","central");
  hi.setAttribute("font-size","16");hi.setAttribute("fill","#000");hi.textContent="High";
  const lo=mk("text",g);
  
  
  lo.setAttribute("x",cbx+6);lo.setAttribute("y",axisY);lo.setAttribute("dominant-baseline","central");
  lo.setAttribute("font-size","16");lo.setAttribute("fill","#000");lo.textContent="Low";
  const fv=mk("text",g);
  
  
  const fx=fvXs[p.col],fy=top+188;
  fv.setAttribute("x",fx);fv.setAttribute("y",fy);fv.setAttribute("text-anchor","middle");
  fv.setAttribute("dominant-baseline","central");fv.setAttribute("font-size","16");fv.setAttribute("fill","#000");
  fv.setAttribute("transform","rotate(-90 "+fx+" "+fy+")");fv.textContent="Feature value";
});
</script>
</body></html>
